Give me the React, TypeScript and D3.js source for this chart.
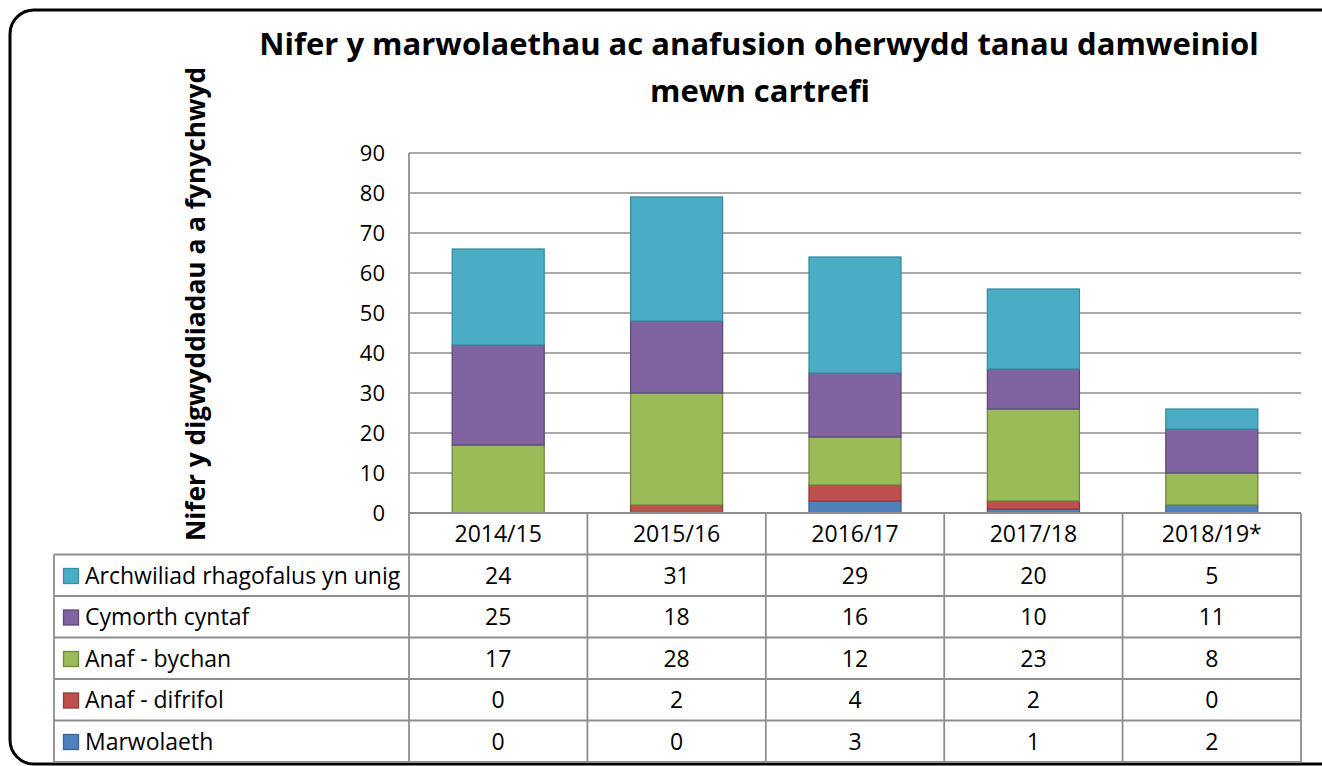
import React, { useMemo } from "react";
import * as d3 from "d3";

const categories = ["2014/15", "2015/16", "2016/17", "2017/18", "2018/19*"];
const seriesKeys = ["marwolaeth", "anafDifrifol", "anafBychan", "cymorthCyntaf", "archwiliad"];
const seriesLabels = ["Marwolaeth", "Anaf - difrifol", "Anaf - bychan", "Cymorth cyntaf", "Archwiliad rhagofalus yn unig"];
const marwolaeth = [0, 0, 3, 1, 2];
const anafDifrifol = [0, 2, 4, 2, 0];
const anafBychan = [17, 28, 12, 23, 8];
const cymorthCyntaf = [25, 18, 16, 10, 11];
const archwiliad = [24, 31, 29, 20, 5];
const yTicks = [0, 10, 20, 30, 40, 50, 60, 70, 80, 90];

const fills = ["#4F81BD", "#C0504D", "#9BBB59", "#8064A2", "#4BACC6"];
const strokes = ["#3A6395", "#923C3A", "#71893F", "#5E4A78", "#3A8CA2"];

const FONT = "'Open Sans', sans-serif";

export default function App() {
  const W = 1322, H = 766;
  const plotL = 409, plotR = 1301, plotT = 153, plotB = 513;
  const tableL = 54;
  const rowH = 41.5;

  const x = d3.scaleBand<string>().domain(categories).range([plotL, plotR]).padding(0);
  const y = d3.scaleLinear().domain([0, 90]).range([plotB, plotT]);
  const barW = 92;

  const data = useMemo(
    () =>
      categories.map((c, i) => ({
        cat: c,
        marwolaeth: marwolaeth[i],
        anafDifrifol: anafDifrifol[i],
        anafBychan: anafBychan[i],
        cymorthCyntaf: cymorthCyntaf[i],
        archwiliad: archwiliad[i],
      })),
    []
  );
  const stacked = d3.stack<any>().keys(seriesKeys)(data);
  const seriesValues = [marwolaeth, anafDifrifol, anafBychan, cymorthCyntaf, archwiliad];
  const tableOrder = [4, 3, 2, 1, 0];
  const tableBottom = plotB + rowH * 6;
  const TS = 23;

  return (
    <svg width={W} height={H} style={{ position: "absolute", left: 0, top: 0, background: "#fff" }}>
      <rect x={0} y={0} width={W} height={H} fill="#fff" />
      <rect x={10} y={10} width={1335} height={754} rx={24} ry={24} fill="none" stroke="#000" strokeWidth={3} />

      {/* title */}
      <text x={759} y={55} textAnchor="middle" fontFamily={FONT} fontWeight={700} fontSize={31} fill="#000">
        Nifer y marwolaethau ac anafusion oherwydd tanau damweiniol
      </text>
      <text x={760} y={102} textAnchor="middle" fontFamily={FONT} fontWeight={700} fontSize={31} fill="#000">
        mewn cartrefi
      </text>

      {/* y-axis title */}
      <text
        transform={`translate(205, 304) rotate(-90)`}
        textAnchor="middle"
        fontFamily={FONT}
        fontWeight={700}
        fontSize={26.3}
        fill="#000"
      >
        Nifer y digwyddiadau a a fynychwyd
      </text>

      {/* gridlines */}
      {yTicks.map((t) => (
        <line key={"g" + t} x1={plotL} x2={plotR} y1={y(t)} y2={y(t)} stroke="#8E8E8E" strokeWidth={1.6} />
      ))}
      {yTicks.map((t) => (
        <text key={"t" + t} x={385} y={y(t)} dy="0.35em" textAnchor="end" fontFamily={FONT} fontSize={22} fill="#000">
          {t}
        </text>
      ))}

      {/* bars */}
      {stacked.map((s, si) =>
        s.map((d, ci) => {
          const v = d[1] - d[0];
          if (v <= 0) return null;
          const cx = (x(categories[ci]) as number) + x.bandwidth() / 2;
          return (
            <rect
              key={si + "-" + ci}
              x={cx - barW / 2}
              y={y(d[1])}
              width={barW}
              height={y(d[0]) - y(d[1])}
              fill={fills[si]}
              stroke={strokes[si]}
              strokeWidth={1.3}
            />
          );
        })
      )}

      {/* table lines */}
      <line x1={plotL} x2={plotR} y1={plotB} y2={plotB} stroke="#8E8E8E" strokeWidth={1.8} />
      {[1, 2, 3, 4, 5, 6].map((r) => (
        <line key={"r" + r} x1={tableL} x2={plotR} y1={plotB + rowH * r} y2={plotB + rowH * r} stroke="#8E8E8E" strokeWidth={1.8} />
      ))}
      <line x1={plotL} x2={plotL} y1={plotT} y2={tableBottom} stroke="#8E8E8E" strokeWidth={1.8} />
      <line x1={tableL} x2={tableL} y1={plotB + rowH} y2={tableBottom} stroke="#8E8E8E" strokeWidth={1.8} />
      {categories.map((c, i) => (
        <line
          key={"c" + i}
          x1={(x(c) as number) + x.bandwidth()}
          x2={(x(c) as number) + x.bandwidth()}
          y1={plotB}
          y2={tableBottom}
          stroke="#8E8E8E"
          strokeWidth={1.8}
        />
      ))}

      {/* category header */}
      {categories.map((c) => (
        <text
          key={"h" + c}
          x={(x(c) as number) + x.bandwidth() / 2}
          y={plotB + rowH / 2}
          dy="0.36em"
          textAnchor="middle"
          fontFamily={FONT}
          fontSize={TS}
          fill="#000"
        >
          {c}
        </text>
      ))}

      {/* rows */}
      {tableOrder.map((si, r) => {
        const rowY = plotB + rowH * (r + 1);
        return (
          <g key={"row" + si}>
            <rect x={63.5} y={rowY + 14} width={15} height={15} fill={fills[si]} stroke={strokes[si]} strokeWidth={1.3} />
            <text x={85} y={rowY + rowH / 2} dy="0.36em" fontFamily={FONT} fontSize={TS} fill="#000">
              {seriesLabels[si]}
            </text>
            {categories.map((c, ci) => (
              <text
                key={c}
                x={(x(c) as number) + x.bandwidth() / 2}
                y={rowY + rowH / 2}
                dy="0.36em"
                textAnchor="middle"
                fontFamily={FONT}
                fontSize={TS}
                fill="#000"
              >
                {seriesValues[si][ci]}
              </text>
            ))}
          </g>
        );
      })}
    </svg>
  );
}
